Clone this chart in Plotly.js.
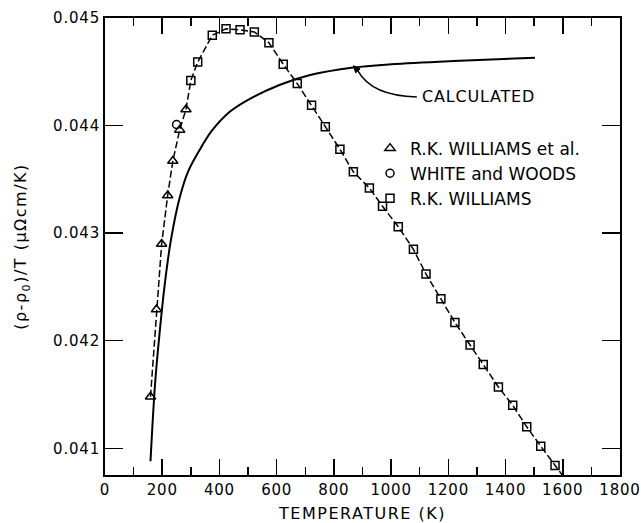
<!DOCTYPE html>
<html>
<head>
<meta charset="utf-8">
<script src="https://cdn.plot.ly/plotly-3.0.1.min.js"></script>
<style>
  html, body { margin: 0; padding: 0; background: #fff; }
  #chart { width: 641px; height: 523px; }
  .xtick text, .ytick text { letter-spacing: 0.8px; }
  .xtitle, .ytitle { letter-spacing: 1.5px; }
  .annotation-text { letter-spacing: 0.8px; }
</style>
</head>
<body>
<div id="chart"></div>
<script>
// R.K. WILLIAMS et al. (triangles)
const triT = [159, 180, 198, 219, 237, 261, 283];
const triV = [0.04148, 0.04229, 0.04290, 0.04335, 0.04367, 0.04396, 0.04415];

// WHITE and WOODS (circle)
const circT = [250];
const circV = [0.04401];

// R.K. WILLIAMS (squares)
const sqT = [300, 324, 375, 423, 472, 522, 573, 623, 672, 722, 770, 821, 868, 924, 970,
             1025, 1078, 1122, 1174, 1223, 1276, 1322, 1375, 1425, 1474, 1523, 1573];
const sqV = [0.04442, 0.04459, 0.04484, 0.04490, 0.04489, 0.04487, 0.04477, 0.04457, 0.04439, 0.04419, 0.04399, 0.04378, 0.04357, 0.04342, 0.04325,
             0.04306, 0.04285, 0.04262, 0.04239, 0.04217, 0.04196, 0.04178, 0.04157, 0.04140, 0.04120, 0.04102, 0.04084];

// dashed guide line continues past the last square to the axis
const dashEndT = [1610];
const dashEndV = [0.04071];

// CALCULATED curve
const calcT = [159, 175, 190, 210, 230, 260, 290, 330, 373, 437, 500, 612, 717, 868, 1000, 1218, 1503];
const calcV = [0.04088, 0.04160, 0.04205, 0.04255, 0.04293, 0.04332, 0.04357, 0.04377, 0.04395, 0.04413, 0.04424, 0.04438, 0.04447, 0.04454, 0.04457, 0.04460, 0.04463];

// axis tick values
const xTicks = [0, 200, 400, 600, 800, 1000, 1200, 1400, 1600, 1800];
const yTicks = [0.041, 0.042, 0.043, 0.044, 0.045];

const FONT = 'DejaVu Sans, Liberation Sans, Arial, sans-serif';

const dashX = triT.concat(sqT, dashEndT);
const dashY = triV.concat(sqV, dashEndV);

const traces = [
  { x: calcT, y: calcV, mode: 'lines', line: { color: '#000', width: 2, shape: 'spline', smoothing: 1 },
    showlegend: false, hoverinfo: 'skip' },
  { x: dashX, y: dashY, mode: 'lines', line: { color: '#000', width: 1.5, dash: '7px,3px' },
    showlegend: false, hoverinfo: 'skip' },
  { x: triT, y: triV, mode: 'markers', name: 'R.K. WILLIAMS et al.',
    marker: { symbol: 'triangle-up-open', size: 9, color: '#000', line: { width: 1.5, color: '#000' } } },
  { x: circT, y: circV, mode: 'markers', name: 'WHITE and WOODS',
    marker: { symbol: 'circle-open', size: 8, color: '#000', line: { width: 1.5, color: '#000' } } },
  { x: sqT, y: sqV, mode: 'markers', name: 'R.K. WILLIAMS',
    marker: { symbol: 'square-open', size: 8, color: '#000', line: { width: 1.5, color: '#000' } } }
];

const layout = {
  width: 641, height: 523,
  margin: { l: 105, r: 21, t: 18, b: 48 },
  paper_bgcolor: '#fff', plot_bgcolor: '#fff',
  font: { family: FONT, color: '#000', size: 15 },
  showlegend: true,
  legend: {
    x: 0.5146, y: 0.7536, xanchor: 'left', yanchor: 'top',
    font: { family: FONT, size: 17, color: '#000' },
    bgcolor: 'rgba(0,0,0,0)', borderwidth: 0, itemwidth: 30, tracegroupgap: 0
  },
  xaxis: {
    range: [0, 1800], tickvals: xTicks, ticktext: xTicks.map(String),
    ticks: 'inside', ticklen: 16, tickwidth: 1.5, tickcolor: '#000',
    minor: { dtick: 100, tick0: 0, ticks: 'inside', ticklen: 8, tickwidth: 1.5, tickcolor: '#000', showgrid: false },
    showline: true, linewidth: 2, linecolor: '#000', mirror: 'ticks',
    showgrid: false, zeroline: false,
    tickfont: { family: FONT, size: 15, color: '#000' },
    title: { text: 'TEMPERATURE (K)', font: { family: FONT, size: 16, color: '#000' }, standoff: 10 }
  },
  yaxis: {
    range: [0.040752, 0.045], tickvals: yTicks, ticktext: yTicks.map(v => v.toFixed(3)),
    ticks: 'inside', ticklen: 18, tickwidth: 1.5, tickcolor: '#000',
    showline: true, linewidth: 2, linecolor: '#000', mirror: 'ticks',
    showgrid: false, zeroline: false,
    tickfont: { family: FONT, size: 15, color: '#000' },
    title: { text: '(ρ-ρ<sub>0</sub>)/T (μΩcm/K)', font: { family: FONT, size: 16, color: '#000' }, standoff: 22 }
  },
  shapes: [
    // curved leader from the CALCULATED label to the curve
    { type: 'path', xref: 'x', yref: 'y',
      path: 'M 1090,0.044266 Q 933,0.044275 884,0.044508',
      line: { color: '#000', width: 1.5 } },
    // arrowhead
    { type: 'path', xref: 'x', yref: 'y',
      path: 'M 868,0.044557 L 891.8,0.044527 L 876.1,0.044490 Z',
      fillcolor: '#000', line: { color: '#000', width: 1 } }
  ],
  annotations: [
    { x: 1101, y: 0.044266, xref: 'x', yref: 'y', text: 'CALCULATED', showarrow: false,
      xanchor: 'left', yanchor: 'middle', font: { family: FONT, size: 16, color: '#000' } }
  ]
};

Plotly.newPlot('chart', traces, layout, { displayModeBar: false, staticPlot: true });
</script>
</body>
</html>
